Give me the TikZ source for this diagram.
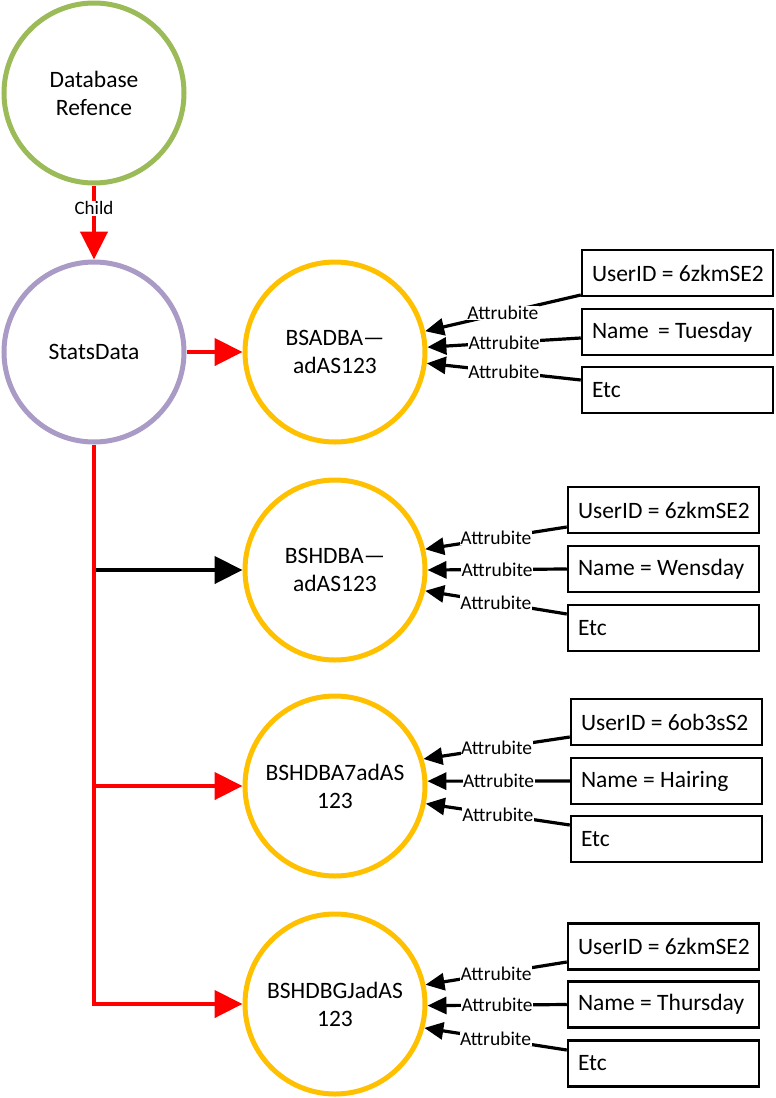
\documentclass[tikz,border=0pt]{standalone}
\usepackage{fontspec}
\setmainfont{Carlito}
\usetikzlibrary{arrows.meta,calc}
\definecolor{dbgreen}{HTML}{9BBB59}
\definecolor{statpurple}{HTML}{A99BC5}
\definecolor{recyellow}{HTML}{FFC000}
\definecolor{linkred}{HTML}{FF0000}
\newcommand{\fieldtext}[1]{\makebox[171pt][l]{#1}}
\begin{document}
\begin{tikzpicture}[x=1pt,y=-1pt,
  bigtext/.style={font=\fontsize{23.5}{28}\selectfont, align=center},
  bubble/.style={circle, line width=5pt, minimum size=180pt, inner sep=0pt, fill=white, bigtext},
  dbnode/.style={bubble, draw=dbgreen},
  statnode/.style={bubble, draw=statpurple},
  recnode/.style={bubble, draw=recyellow},
  field/.style={draw=black, line width=2.5pt, rectangle, minimum height=46pt, minimum width=191pt, inner xsep=10pt, font=\fontsize{23.5}{28}\selectfont},
  mainlink/.style={line width=4.5pt, -{Triangle[length=28pt,width=27pt]}},
  attr/.style={draw=black, line width=3.2pt, -{Triangle[length=19pt,width=17pt]}},
  attrlabel/.style={fill=white, inner sep=0.5pt, font=\fontsize{19.5}{21}\selectfont},
]
\useasboundingbox (0,0) rectangle (776,1098);

% circles
\node[dbnode] (db) at (94,93) {Database\\Refence};
\node[statnode] (stats) at (94,352) {StatsData};
\node[recnode] (c1) at (335,352) {BSADBA—\\adAS123};
\node[recnode] (c2) at (335,570) {BSHDBA—\\adAS123};
\node[recnode] (c3) at (335,786) {BSHDBA7adAS\\123};
\node[recnode] (c4) at (335,1004) {BSHDBGJadAS\\123};

% boxes group 1
\node[field] (u1) at (677.5,273) {\fieldtext{UserID = 6zkmSE2}};
\node[field] (n1) at (677.5,332) {\fieldtext{Name \,= Tuesday}};
\node[field] (e1) at (677.5,390) {\fieldtext{Etc}};
% group 2
\node[field] (u2) at (663.5,510) {\fieldtext{UserID = 6zkmSE2}};
\node[field] (n2) at (663.5,569) {\fieldtext{Name = Wensday}};
\node[field] (e2) at (663.5,628) {\fieldtext{Etc}};
% group 3
\node[field] (u3) at (666.5,722) {\fieldtext{UserID = 6ob3sS2}};
\node[field] (n3) at (666.5,781) {\fieldtext{Name = Hairing}};
\node[field] (e3) at (666.5,839) {\fieldtext{Etc}};
% group 4
\node[field] (u4) at (663.5,946.5) {\fieldtext{UserID = 6zkmSE2}};
\node[field] (n4) at (663.5,1004.5) {\fieldtext{Name = Thursday}};
\node[field] (e4) at (663.5,1063.5) {\fieldtext{Etc}};

% junctions
\coordinate (j2) at (94,570);
\coordinate (j3) at (94,786);

% main links
\draw[mainlink, draw=linkred] (db.south) -- node[pos=0.31, fill=white, inner sep=1pt, font=\fontsize{19}{21}\selectfont, text=black] {Child} (stats.north);
\draw[mainlink, draw=linkred] (stats.east) -- (c1.west);
\draw[mainlink, draw=black] (j2) -- (c2.west);
\draw[mainlink, draw=linkred] (j3) -- (c3.west);
\draw[mainlink, draw=linkred] (stats.south) |- (c4.west);

% attributes group 1
\draw[attr] ($(u1.west)+(0,22)$) -- node[attrlabel] {Attrubite} (c1.13);
\draw[attr] ($(n1.west)+(0,6)$) -- node[attrlabel] {Attrubite} (c1.3);
\draw[attr] ($(e1.west)+(0,-10)$) -- node[attrlabel] {Attrubite} (c1.-7);
% group 2
\draw[attr] ($(u2.west)+(0,17)$) -- node[attrlabel] {Attrubite} (c2.13.5);
\draw[attr] (n2.west) -- node[attrlabel] {Attrubite} (c2.0);
\draw[attr] ($(e2.west)+(0,-14)$) -- node[attrlabel] {Attrubite} (c2.-13.5);
% group 3
\draw[attr] ($(u3.west)+(0,15)$) -- node[attrlabel] {Attrubite} (c3.17.5);
\draw[attr] (n3.west) -- node[attrlabel] {Attrubite} (c3.3);
\draw[attr] ($(e3.west)+(0,-14)$) -- node[attrlabel] {Attrubite} (c3.-11);
% group 4
\draw[attr] ($(u4.west)+(0,15.5)$) -- node[attrlabel] {Attrubite} (c4.12);
\draw[attr] (n4.west) -- node[attrlabel] {Attrubite} (c4.-1);
\draw[attr] ($(e4.west)+(0,-13.5)$) -- node[attrlabel] {Attrubite} (c4.-15);
\end{tikzpicture}
\end{document}
